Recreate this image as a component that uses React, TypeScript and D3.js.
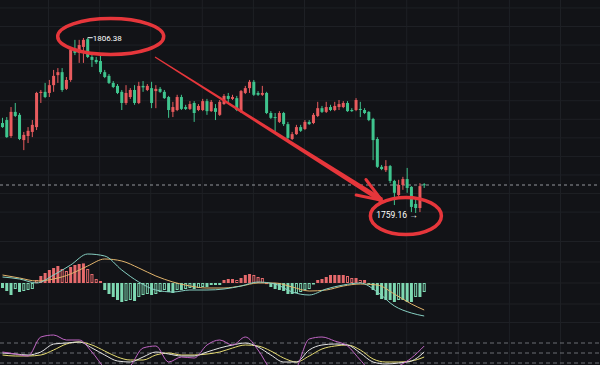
import React from 'react';
import * as d3 from 'd3';

const W = 600;
const H = 365;

// candles, oldest first
const opens = [
  1783.4, 1784.2, 1779.9, 1786.4, 1785.6, 1778.8, 1779.9, 1781.0, 1782.3, 1791.5,
  1791.8, 1791.5, 1793.6, 1796.3, 1797.1, 1792.6, 1795.0, 1803.1, 1802.3, 1803.9,
  1806.0, 1801.2, 1800.4, 1800.1, 1797.1, 1796.1, 1794.2, 1793.4, 1791.8, 1788.8,
  1790.4, 1792.3, 1788.8, 1793.4, 1792.3, 1792.8, 1792.0, 1792.6, 1791.8, 1790.4,
  1786.4, 1786.9, 1790.4, 1787.7, 1787.2, 1788.8, 1786.9, 1786.9, 1789.3, 1786.6,
  1787.4, 1785.6, 1788.5, 1790.7, 1789.9, 1790.1, 1786.4, 1791.5, 1792.8, 1794.5,
  1791.5, 1791.0, 1791.5, 1786.1, 1785.0, 1783.7, 1786.1, 1783.1, 1779.1, 1780.4,
  1782.3, 1781.8, 1783.7, 1783.4, 1785.3, 1787.4, 1786.4, 1787.7, 1786.9, 1787.7,
  1787.7, 1788.8, 1786.9, 1786.9, 1787.2, 1786.9, 1786.4, 1784.5, 1779.1, 1771.6,
  1770.7, 1771.8, 1767.8, 1764.0, 1766.7, 1768.3, 1766.2, 1761.6, 1760.5, 1766.9,
];
const highs = [
  1784.8, 1785.0, 1787.7, 1788.8, 1786.1, 1781.0, 1782.3, 1784.2, 1791.8, 1792.3,
  1794.2, 1795.0, 1797.7, 1798.2, 1798.2, 1795.8, 1803.9, 1805.8, 1805.8, 1806.3,
  1806.38, 1801.7, 1801.2, 1801.7, 1797.7, 1796.6, 1794.7, 1793.9, 1792.3, 1793.6,
  1792.8, 1793.6, 1794.5, 1794.7, 1793.9, 1794.5, 1793.6, 1793.1, 1792.3, 1790.7,
  1789.1, 1791.0, 1791.0, 1788.3, 1789.3, 1789.3, 1788.5, 1789.9, 1789.9, 1789.6,
  1788.5, 1789.6, 1791.2, 1791.5, 1791.0, 1790.7, 1792.3, 1793.4, 1795.0, 1795.0,
  1792.0, 1793.4, 1791.8, 1786.6, 1786.1, 1786.6, 1786.4, 1783.7, 1781.0, 1782.9,
  1782.9, 1784.2, 1784.2, 1786.1, 1789.1, 1788.0, 1789.1, 1788.3, 1789.1, 1789.6,
  1789.3, 1789.3, 1787.4, 1790.1, 1789.1, 1787.4, 1786.6, 1784.8, 1779.6, 1772.1,
  1773.4, 1772.1, 1768.1, 1768.1, 1768.9, 1771.3, 1766.4, 1763.2, 1767.2, 1767.2,
];
const lows = [
  1782.1, 1779.4, 1779.4, 1785.0, 1778.8, 1776.1, 1778.0, 1779.6, 1781.5, 1788.8,
  1790.1, 1790.4, 1791.8, 1794.2, 1791.8, 1792.3, 1794.5, 1801.7, 1799.6, 1799.6,
  1800.9, 1798.5, 1799.3, 1796.6, 1795.5, 1793.9, 1792.8, 1791.2, 1786.9, 1788.3,
  1789.9, 1788.3, 1788.5, 1791.8, 1792.0, 1787.4, 1787.4, 1791.5, 1789.9, 1784.8,
  1785.0, 1786.6, 1786.9, 1786.9, 1786.9, 1783.7, 1786.6, 1786.6, 1785.6, 1786.4,
  1784.2, 1785.3, 1788.3, 1788.8, 1789.6, 1786.6, 1786.1, 1791.2, 1791.5, 1790.7,
  1790.7, 1790.7, 1785.8, 1784.5, 1781.0, 1783.4, 1782.6, 1778.3, 1778.8, 1780.2,
  1781.0, 1781.5, 1782.9, 1783.1, 1785.0, 1786.1, 1786.1, 1786.6, 1786.6, 1786.9,
  1787.4, 1786.4, 1786.4, 1786.6, 1785.0, 1785.8, 1783.9, 1773.4, 1771.3, 1770.7,
  1770.2, 1767.2, 1761.3, 1763.5, 1765.4, 1764.6, 1759.4, 1759.16, 1759.4, 1765.9,
];
const closes = [
  1782.3, 1779.6, 1786.4, 1785.3, 1779.1, 1780.2, 1781.3, 1782.9, 1791.5, 1791.8,
  1790.4, 1793.6, 1796.1, 1797.1, 1792.3, 1795.0, 1803.1, 1802.3, 1804.4, 1805.8,
  1801.2, 1800.4, 1799.8, 1797.1, 1795.8, 1794.2, 1793.1, 1791.5, 1788.8, 1791.5,
  1792.3, 1788.8, 1793.4, 1793.0, 1793.4, 1788.8, 1792.6, 1791.8, 1790.1, 1786.9,
  1787.7, 1790.4, 1787.2, 1787.2, 1788.5, 1786.1, 1788.0, 1789.3, 1786.6, 1789.1,
  1786.4, 1789.1, 1790.7, 1789.9, 1790.4, 1786.9, 1792.0, 1792.8, 1794.5, 1791.0,
  1791.0, 1791.5, 1786.1, 1784.8, 1784.8, 1786.1, 1783.1, 1779.4, 1780.4, 1782.3,
  1781.3, 1783.7, 1783.1, 1785.6, 1787.4, 1786.4, 1787.7, 1786.9, 1788.0, 1788.5,
  1788.8, 1786.6, 1786.6, 1789.6, 1786.9, 1786.1, 1784.2, 1778.8, 1771.6, 1771.0,
  1771.8, 1767.8, 1764.6, 1766.7, 1768.3, 1765.9, 1760.8, 1760.5, 1766.4, 1766.7,
];

const macdHist = [
  -0.25, -0.4, -0.6, -0.3, -0.45, -0.4, -0.35, -0.3,
  0.15, 0.35, 0.5, 0.65, 0.75, 0.85, 0.7, 0.6, 0.8, 0.9, 0.95, 0.98, 0.7, 0.45, 0.2, 0.1,
  -0.35, -0.55, -0.7, -0.85, -0.95, -0.9, -0.85, -0.9, -0.7, -0.6, -0.55, -0.6, -0.55, -0.45,
  -0.35, -0.45, -0.5, -0.35, -0.35, -0.3, -0.25, -0.3, -0.25, -0.2, -0.2, -0.1, -0.1,
  -0.1,
  0.15, 0.2, 0.2, 0.15, 0.25, 0.4, 0.45, 0.4, 0.3, 0.25,
  0.02,
  -0.2, -0.3, -0.35, -0.4, -0.55, -0.55, -0.5, -0.45, -0.35, -0.3, -0.05,
  0.15, 0.2, 0.3, 0.4, 0.4, 0.4, 0.4, 0.35, 0.25, 0.25, 0.15, 0.15,
  -0.05,
  -0.35, -0.6, -0.8, -0.85, -0.85, -0.95, -0.85, -0.85, -0.95, -0.95, -0.7, -0.7, -0.45,
];

// MACD lines, read every 4th candle
const macdIdx = [0, 4, 8, 12, 16, 20, 24, 28, 32, 36, 40, 44, 48, 52, 56, 60, 64, 68, 72, 76, 80, 84, 88, 92, 96, 99];
const difValues = [0.3, 0.2, 0.0, 0.4, 0.9, 1.45, 1.35, 0.65, 0.05, -0.35, -0.45, -0.35, -0.35, -0.3, -0.15, 0.05, -0.05, -0.45, -0.6, -0.3, -0.1, 0.0, -0.45, -1.15, -1.5, -1.65];
const deaValues = [0.4, 0.25, 0.1, 0.2, 0.45, 0.85, 1.2, 1.1, 0.75, 0.35, 0.05, -0.15, -0.25, -0.25, -0.15, 0.0, 0.0, -0.2, -0.4, -0.35, -0.15, -0.05, -0.1, -0.55, -1.05, -1.35];

// KDJ, read every 3rd candle
const kdjIdx = [0, 3, 6, 9, 12, 15, 18, 21, 24, 27, 30, 33, 36, 39, 42, 45, 48, 51, 54, 57, 60, 63, 66, 69, 72, 75, 78, 81, 84, 87, 90, 93, 96, 99];
const kValues = [50, 47, 44, 53, 77, 80, 83, 65, 44, 26, 23, 38, 53, 47, 41, 41, 53, 65, 74, 80, 68, 44, 23, 23, 59, 74, 77, 74, 50, 23, 17, 20, 26, 53];
const dValues = [44, 41, 41, 44, 59, 77, 83, 74, 56, 38, 29, 29, 44, 50, 44, 44, 47, 53, 65, 74, 71, 56, 35, 23, 41, 62, 71, 74, 59, 32, 23, 23, 26, 38];
const jValues = [53, 47, 41, 98, 104, 89, 89, 53, 5, -16, 11, 65, 71, 23, 38, 35, 74, 89, 74, 98, 59, -1, -25, 5, 92, 98, 86, 71, 29, -7, -7, 11, 35, 71];
const kdjLevels = [80, 50, 20];

const priceGrid = [1759.4, 1764.4, 1769.4, 1774.4, 1779.4, 1784.4, 1789.4, 1794.4, 1799.4, 1804.4, 1809.4, 1814.4];
const timeGrid = [10.8, 22.8, 34.8, 46.9, 58.9, 70.9, 82.9, 94.9, 107.0, 119.0, 131.0];
const macdGrid = [-1.05, 0, 1.05];

const highPrice = 1806.38;
const lowPrice = 1759.16;
const lastPrice = 1766.7;

const C = {
  bg: '#121317',
  grid: '#1e2025',
  up: '#e85b5e',
  down: '#3fc48e',
  histUp: '#e66a6c',
  histDown: '#7ed8b2',
  dif: '#86cfc2',
  dea: '#e2b46c',
  k: '#e4e4e4',
  d: '#e6dc72',
  j: '#c065c4',
  mark: '#e6363b',
};

const x = d3.scaleLinear().domain([0, 99]).range([2.5, 424.2]);
const yMain = d3.scaleLinear().domain([1754.31, 1816.54]).range([231, 0]);
const yMacd = d3.scaleLinear().domain([-2, 2]).range([323, 243]);
const yKdj = d3.scaleLinear().domain([20, 80]).range([363, 343]);

const bodyW = 3;

export default function App() {
  const candles = opens.map((o, i) => ({ i, o, h: highs[i], l: lows[i], c: closes[i] }));

  const macdLine = d3.line<number>().curve(d3.curveMonotoneX).x((_, k) => x(macdIdx[k])).y(v => yMacd(v));
  const kdjLine = d3.line<number>().curve(d3.curveMonotoneX).x((_, k) => x(kdjIdx[k])).y(v => yKdj(v));

  // arrow from the top ellipse down towards the low
  const ax1 = x(35.8), ay1 = yMain(1801.2);
  const ax2 = x(89.0), ay2 = yMain(1762.6);
  const ang = Math.atan2(ay2 - ay1, ax2 - ax1);
  const nx = -Math.sin(ang), ny = Math.cos(ang);
  const w1 = 0.6, w2 = 2.6;
  const shaft = [
    [ax1 + nx * w1, ay1 + ny * w1],
    [ax2 + nx * w2, ay2 + ny * w2],
    [ax2 - nx * w2, ay2 - ny * w2],
    [ax1 - nx * w1, ay1 - ny * w1],
  ].map(p => p.join(',')).join(' ');
  const headLen = 26;
  const wing = (a: number) => [ax2 - headLen * Math.cos(ang + a), ay2 - headLen * Math.sin(ang + a)];
  const [hx1, hy1] = wing(0.36);
  const [hx2, hy2] = wing(-0.36);

  const hiIdx = highs.indexOf(highPrice);
  const loIdx = lows.indexOf(lowPrice);

  return (
    <div style={{ position: 'fixed', left: 0, top: 0, width: W, height: H }}>
      <svg width={W} height={H} style={{ display: 'block', fontFamily: 'Roboto, sans-serif' }}>
        <defs>
          <clipPath id="macdClip"><rect x={0} y={241} width={W} height={81} /></clipPath>
          <clipPath id="kdjClip"><rect x={0} y={323} width={W} height={42} /></clipPath>
        </defs>
        <rect width={W} height={H} fill={C.bg} />

        {/* grid */}
        {timeGrid.map(t => (
          <line key={'v' + t} x1={x(t)} x2={x(t)} y1={0} y2={H} stroke={C.grid} strokeWidth={1} />
        ))}
        {priceGrid.map(p => (
          <line key={'h' + p} x1={0} x2={W} y1={yMain(p)} y2={yMain(p)} stroke={C.grid} />
        ))}
        {macdGrid.map(v => (
          <line key={'m' + v} x1={0} x2={W} y1={yMacd(v)} y2={yMacd(v)} stroke={C.grid} />
        ))}
        <line x1={0} x2={W} y1={241.5} y2={241.5} stroke={C.grid} />
        <line x1={0} x2={W} y1={322.5} y2={322.5} stroke={C.grid} />

        {/* last price */}
        <line x1={0} x2={W} y1={yMain(lastPrice)} y2={yMain(lastPrice)} stroke="#bfc3c8" strokeOpacity={0.75} strokeDasharray="3,3" />

        {/* candles */}
        {candles.map(d => {
          const col = d.c >= d.o ? C.up : C.down;
          const top = yMain(Math.max(d.o, d.c));
          const bh = Math.max(1, Math.abs(yMain(d.o) - yMain(d.c)));
          return (
            <g key={d.i}>
              <line x1={x(d.i)} x2={x(d.i)} y1={yMain(d.h)} y2={yMain(d.l)} stroke={col} strokeWidth={1} />
              <rect x={x(d.i) - bodyW / 2} y={top} width={bodyW} height={bh} fill={col} />
            </g>
          );
        })}

        {/* high / low labels */}
        <line x1={x(hiIdx)} x2={x(hiIdx) + 5} y1={yMain(highPrice)} y2={yMain(highPrice)} stroke="#fff" />
        <text x={x(hiIdx) + 5} y={yMain(highPrice)} dy="0.35em" fill="#fff" fontSize={8}>{highPrice.toFixed(2)}</text>
        <text x={x(loIdx) + 2} y={yMain(lowPrice) + 2} dy="0.35em" fill="#fff" fontSize={8.5} textAnchor="end">{lowPrice.toFixed(2) + ' →'}</text>

        {/* MACD */}
        <g clipPath="url(#macdClip)">
          {macdHist.map((v, i) => {
            const prev = i > 0 ? macdHist[i - 1] : v;
            const grow = Math.abs(v) >= Math.abs(prev);
            const col = v >= 0 ? C.histUp : C.histDown;
            const y0 = yMacd(0);
            const y1 = yMacd(v);
            const top = Math.min(y0, y1);
            const hgt = Math.max(1, Math.abs(y1 - y0));
            return grow ? (
              <rect key={i} x={x(i) - 1.5} y={top} width={3} height={hgt} fill={col} />
            ) : (
              <rect key={i} x={x(i) - 1} y={top + 0.5} width={2} height={Math.max(0.5, hgt - 1)} fill="none" stroke={col} strokeWidth={1} />
            );
          })}
          <path d={macdLine(deaValues) || ''} fill="none" stroke={C.dea} strokeWidth={1} />
          <path d={macdLine(difValues) || ''} fill="none" stroke={C.dif} strokeWidth={1} />
        </g>

        {/* KDJ */}
        <g clipPath="url(#kdjClip)">
          {kdjLevels.map(v => (
            <line key={'l' + v} x1={0} x2={W} y1={yKdj(v)} y2={yKdj(v)} stroke="#6b6e74" strokeDasharray="4,3" />
          ))}
          <path d={kdjLine(dValues) || ''} fill="none" stroke={C.d} strokeWidth={1} />
          <path d={kdjLine(kValues) || ''} fill="none" stroke={C.k} strokeWidth={1} />
          <path d={kdjLine(jValues) || ''} fill="none" stroke={C.j} strokeWidth={1} />
        </g>

        {/* annotations */}
        <ellipse cx={x(25.4)} cy={yMain(1806.7)} rx={53} ry={18} fill="none" stroke={C.mark} strokeWidth={3.5} />
        <ellipse cx={x(94.7)} cy={yMain(1758.35)} rx={35.5} ry={18.5} fill="none" stroke={C.mark} strokeWidth={3.5} />
        <polygon points={shaft} fill={C.mark} />
        <polyline points={`${hx1},${hy1} ${ax2},${ay2} ${hx2},${hy2}`} fill="none" stroke={C.mark} strokeWidth={3} strokeLinecap="round" strokeLinejoin="round" />
      </svg>
    </div>
  );
}
